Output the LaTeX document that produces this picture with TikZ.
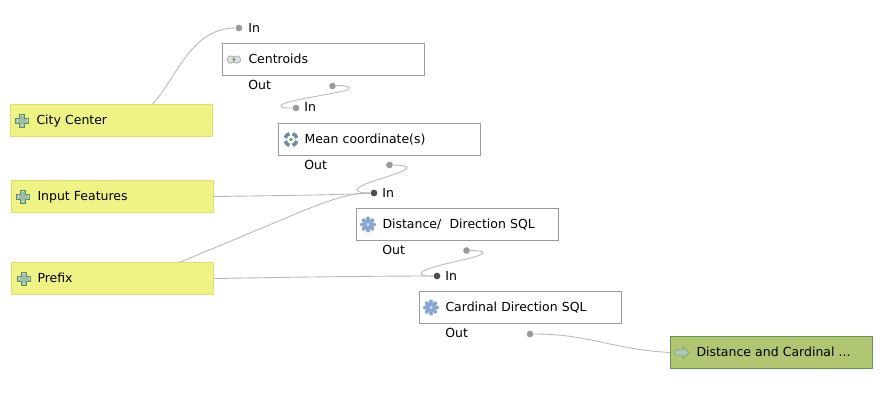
\documentclass[tikz,border=0pt]{standalone}
\usepackage{fontspec}
\setmainfont{DejaVu Sans}
\usepackage{xcolor}
\usetikzlibrary{calc,positioning,shapes.geometric}
\definecolor{inputfill}{HTML}{EFF284}
\definecolor{inputline}{HTML}{E6DD6C}
\definecolor{outfill}{HTML}{B0C673}
\definecolor{outline}{HTML}{5F9358}
\definecolor{algoline}{HTML}{9A9A9A}
\definecolor{wire}{HTML}{B8B8B8}
\definecolor{gearblue}{HTML}{86A5D2}
\definecolor{plusgreen}{HTML}{5F9068}
\definecolor{roundblue}{HTML}{6B8BA3}
\begin{document}
\begin{tikzpicture}[x=0.02cm,y=-0.02cm,font=\fontsize{7.1}{8.5}\selectfont]
	\tikzstyle{box} = [rectangle,text width=3.52cm,align=left,inner xsep=0.26cm,inner ysep=0pt,text height=5.6pt,text depth=1.5pt,minimum height=6.4mm,minimum width=4.04cm,line width=0.6pt,execute at begin node={\leavevmode\hskip 0.26cm}]
	\tikzstyle{algo} = [box,draw=algoline,fill=white]
	\tikzstyle{param} = [box,draw=inputline,fill=inputfill]
	\tikzstyle{result} = [box,draw=outline,fill=outfill]
	\tikzstyle{port} = [circle,inner sep=0pt,minimum size=3.8pt,fill=algoline]
	\tikzstyle{portdark} = [circle,inner sep=0pt,minimum size=3.8pt,fill=black!70]
	\tikzstyle{tag} = [anchor=west,inner sep=0pt,text height=5.6pt,text depth=1.5pt,yshift=-0.6pt]
	\tikzstyle{wireline} = [wire,line width=0.5pt]
	\tikzset{
		plusicon/.pic={
			\draw[plusgreen,fill=plusgreen!60,line width=0.6pt] (-2.5,-6.5) -- (2.5,-6.5) -- (2.5,-2.5) -- (6.5,-2.5) -- (6.5,2.5) -- (2.5,2.5) -- (2.5,6.5) -- (-2.5,6.5) -- (-2.5,2.5) -- (-6.5,2.5) -- (-6.5,-2.5) -- (-2.5,-2.5) -- cycle;
			\draw[white!75!plusgreen,line width=0.5pt] (-1.2,-5) -- (1.2,-5) (-5,-1.2) -- (-5,1.2) (5,-1.2) -- (5,1.2) (-1.2,5) -- (1.2,5);
		},
		gearicon/.pic={
			\foreach \a in {0,45,...,315}
				\fill[gearblue] (\a:6) circle (2);
			\fill[gearblue] (0,0) circle (5.6);
			\fill[white!55!gearblue] (0,0) circle (1.8);
		},
		roundicon/.pic={
			\foreach \a in {45,135,225,315}
				\draw[roundblue,line width=2pt] (\a-30:6) arc[start angle=\a-30,end angle=\a+30,radius=6];
			\fill[green!40!gray] (0,0) circle (1.8);
		},
		centroidicon/.pic={
			\draw[gray!70,fill=gray!25,line width=0.4pt] (-3,0) circle (3.7);
			\draw[gray!70,fill=gray!25,line width=0.4pt] (3,0) circle (3.7);
			\fill[green!40!gray] (0,0) circle (1.6);
		},
		arrowicon/.pic={
			\draw[plusgreen!80,fill=white!50!plusgreen,line width=0.5pt] (-7,-2.5) -- (1,-2.5) -- (1,-6) -- (7,0) -- (1,6) -- (1,2.5) -- (-7,2.5) -- cycle;
		}
	}
	\useasboundingbox (0,0) rectangle (882,410);
	
	\node[param,anchor=north west] (CityCenter) at (10,104) {City Center};
	\node[param,anchor=north west] (InputFeatures) at (11,180) {Input Features};
	\node[param,anchor=north west] (Prefix) at (11,262) {Prefix};
	
	\node[tag] (InCentroids) at (248,28) {In};
	\node[tag] (OutCentroids) at (248,85) {Out};
	\node[tag] (InMean) at (304,107) {In};
	\node[tag] (OutMean) at (304,165) {Out};
	\node[tag] (InDist) at (382,193) {In};
	\node[tag] (OutDist) at (382,250) {Out};
	\node[tag] (InCard) at (445,276) {In};
	\node[tag] (OutCard) at (445,333) {Out};
	
	\node[port] (P1) at (239,28) {};
	\node[port] (P2) at (332.5,86) {};
	\node[port] (P3) at (296,108) {};
	\node[port] (P4) at (389.5,165) {};
	\node[portdark] (P5) at (374,193) {};
	\node[port] (P6) at (466.5,250.5) {};
	\node[portdark] (P7) at (437,276) {};
	\node[port] (P8) at (530,334) {};
	
	% wires first, boxes sit on top of them
	\draw[wireline] ($(CityCenter.north)+(41,0)$) .. controls (176,80) and (190,28) .. (P1);
	\draw[wireline] (P2) .. controls (345,85) and (351,87) .. (349,89) .. controls (345,93) and (281,100) .. (281,106) .. controls (282,108.5) and (290,108) .. (P3);
	\draw[wireline] (P4) .. controls (400,165) and (408,166) .. (407,168) .. controls (404,174) and (357,183) .. (357,190) .. controls (358,193) and (366,193) .. (P5);
	\draw[wireline] (P6) .. controls (476,250.5) and (485,251) .. (483,253) .. controls (479,259) and (421,266) .. (421,274) .. controls (422,276.5) and (430,276) .. (P7);
	\draw[wireline] (InputFeatures.east) .. controls (280,195.5) and (340,195) .. (P5);
	\draw[wireline] ($(Prefix.north)+(68,0)$) -- (305,210) .. controls (340,196) and (355,193) .. (P5);
	\draw[wireline] (Prefix.east) .. controls (300,277) and (380,276) .. (P7);
	
	\node[algo,anchor=north west] (Centroids) at (222,43) {Centroids};
	\node[algo,anchor=north west] (Mean) at (278,123) {Mean coordinate(s)};
	\node[algo,anchor=north west] (DistDir) at (356,208) {Distance/\ \ Direction SQL};
	\node[algo,anchor=north west] (CardDir) at (419,291) {Cardinal Direction SQL};
	\node[result,anchor=north west] (Output) at (670,336) {Distance and Cardinal ...};
	\draw[wireline] (P8) .. controls (590,334) and (610,349) .. (Output.west);
	
	\pic at ($(CityCenter.west)+(12,0)$) {plusicon};
	\pic at ($(InputFeatures.west)+(12,0)$) {plusicon};
	\pic at ($(Prefix.west)+(13,0)$) {plusicon};
	\pic at ($(Centroids.west)+(12,0)$) {centroidicon};
	\pic at ($(Mean.west)+(13,0)$) {roundicon};
	\pic at ($(DistDir.west)+(12,0)$) {gearicon};
	\pic at ($(CardDir.west)+(12,0)$) {gearicon};
	\pic at ($(Output.west)+(12,0)$) {arrowicon};
\end{tikzpicture}
\end{document}
